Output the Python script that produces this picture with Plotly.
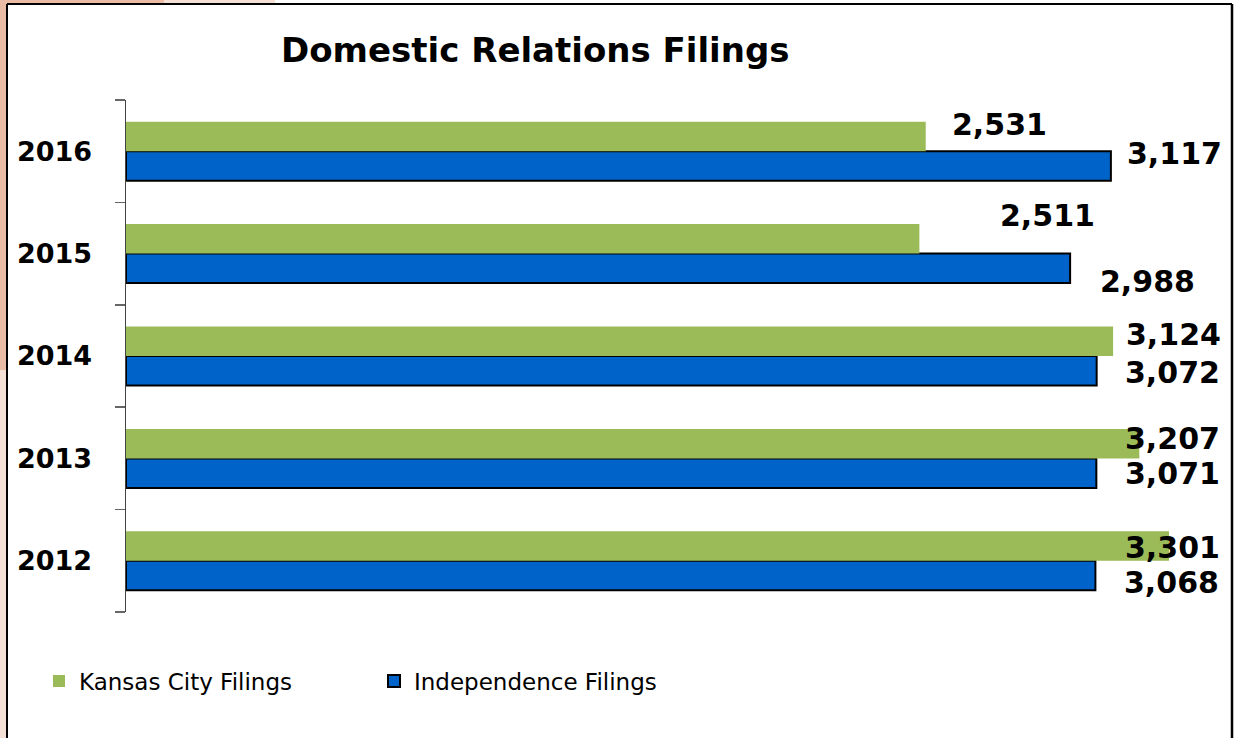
import plotly.graph_objects as go

# ---- data ----
years = ["2012", "2013", "2014", "2015", "2016"]
kansas_city = [3301, 3207, 3124, 2511, 2531]
independence = [3068, 3071, 3072, 2988, 3117]
series_names = ["Kansas City Filings", "Independence Filings"]
title_text = "Domestic Relations Filings"

# label offsets (pixels) relative to bar end / category centre
kc_label_dx = [3, 33, 60, 128, 74]
kc_label_dy = [13, 20, 22, 38, 27]
ind_label_dx = [76, 76, 76, 77, 64]
ind_label_dy = [-22, -15, -16, -28, -2]

GREEN = "#9bbb59"
BLUE = "#0063c9"

W, H = 1238, 738
L, R, T, B = 126, 8, 100, 126
PW, PH = W - L - R, H - T - B


def px(x):
    return (x - L) / PW


def py(y):
    return (H - B - y) / PH


fig = go.Figure()
fig.add_trace(go.Bar(
    y=years, x=independence, orientation="h", name=series_names[1],
    marker=dict(color=BLUE, line=dict(color="#000000", width=2)),
    legendrank=2, hoverinfo="skip",
))
fig.add_trace(go.Bar(
    y=years, x=kansas_city, orientation="h", name=series_names[0],
    marker=dict(color=GREEN, line=dict(width=0)),
    legendrank=1, hoverinfo="skip",
))

label_font = dict(family="DejaVu Sans", size=30, color="#000000", weight="bold")
annotations = []
for i, yr in enumerate(years):
    annotations.append(dict(
        x=kansas_city[i], y=i, xref="x", yref="y", text=f"{kansas_city[i]:,}",
        showarrow=False, xanchor="center", yanchor="middle",
        xshift=kc_label_dx[i], yshift=kc_label_dy[i], font=label_font,
    ))
    annotations.append(dict(
        x=independence[i], y=i, xref="x", yref="y", text=f"{independence[i]:,}",
        showarrow=False, xanchor="center", yanchor="middle",
        xshift=ind_label_dx[i], yshift=ind_label_dy[i], font=label_font,
    ))

annotations.append(dict(
    x=px(535), y=py(50), xref="paper", yref="paper", text=title_text,
    showarrow=False, xanchor="center", yanchor="middle",
    font=dict(family="DejaVu Sans", size=34, color="#000000", weight="bold"),
))

shapes = [
    # salmon background outside the frame (left + top strip)
    dict(type="rect", xref="paper", yref="paper", x0=px(0), x1=px(7), y0=py(738), y1=py(370),
         fillcolor="#f5e0d5", line=dict(width=0), layer="below"),
    dict(type="rect", xref="paper", yref="paper", x0=px(0), x1=px(7), y0=py(370), y1=py(0),
         fillcolor="#ebbca5", line=dict(width=0), layer="below"),
    dict(type="rect", xref="paper", yref="paper", x0=px(0), x1=px(164), y0=py(4), y1=py(0),
         fillcolor="#ebbca5", line=dict(width=0), layer="below"),
    dict(type="rect", xref="paper", yref="paper", x0=px(164), x1=px(275), y0=py(4), y1=py(0),
         fillcolor="#f5e0d5", line=dict(width=0), layer="below"),
    # black frame
    dict(type="line", xref="paper", yref="paper", x0=px(7), x1=px(7), y0=py(740), y1=py(4),
         line=dict(color="#000000", width=2)),
    dict(type="line", xref="paper", yref="paper", x0=px(7), x1=px(1232), y0=py(4), y1=py(4),
         line=dict(color="#000000", width=2)),
    dict(type="line", xref="paper", yref="paper", x0=px(1232), x1=px(1232), y0=py(4), y1=py(740),
         line=dict(color="#000000", width=2.5)),
]

fig.update_layout(
    width=W, height=H,
    margin=dict(l=L, r=R, t=T, b=B, pad=0, autoexpand=False),
    paper_bgcolor="#ffffff", plot_bgcolor="#ffffff",
    barmode="group", bargap=0.424, bargroupgap=0,
    showlegend=True,
    legend=dict(
        orientation="h", xref="container", yref="container",
        x=39 / W, y=(H - 681) / H, xanchor="left", yanchor="middle",
        font=dict(family="DejaVu Sans", size=23, color="#000000"),
        traceorder="normal", entrywidth=290, entrywidthmode="pixels",
        bgcolor="rgba(0,0,0,0)",
    ),
    xaxis=dict(range=[0, 3494], visible=False, fixedrange=True, autorange=False),
    yaxis=dict(
        type="category", categoryorder="array", categoryarray=years,
        range=[-0.5, 4.5], autorange=False,
        showline=True, linecolor="#444444", linewidth=1.5,
        ticks="outside", ticklen=10, tickcolor="#666666", tickwidth=1.5,
        tickson="boundaries", showgrid=False, zeroline=False,
        tickfont=dict(family="DejaVu Sans", size=27, color="#000000", weight="bold"),
        ticklabelstandoff=27, fixedrange=True,
    ),
    annotations=annotations,
    shapes=shapes,
)

fig.write_html(
    "out.html",
    config={"displayModeBar": False, "staticPlot": True},
    post_script="document.body.style.margin='0';",
)
